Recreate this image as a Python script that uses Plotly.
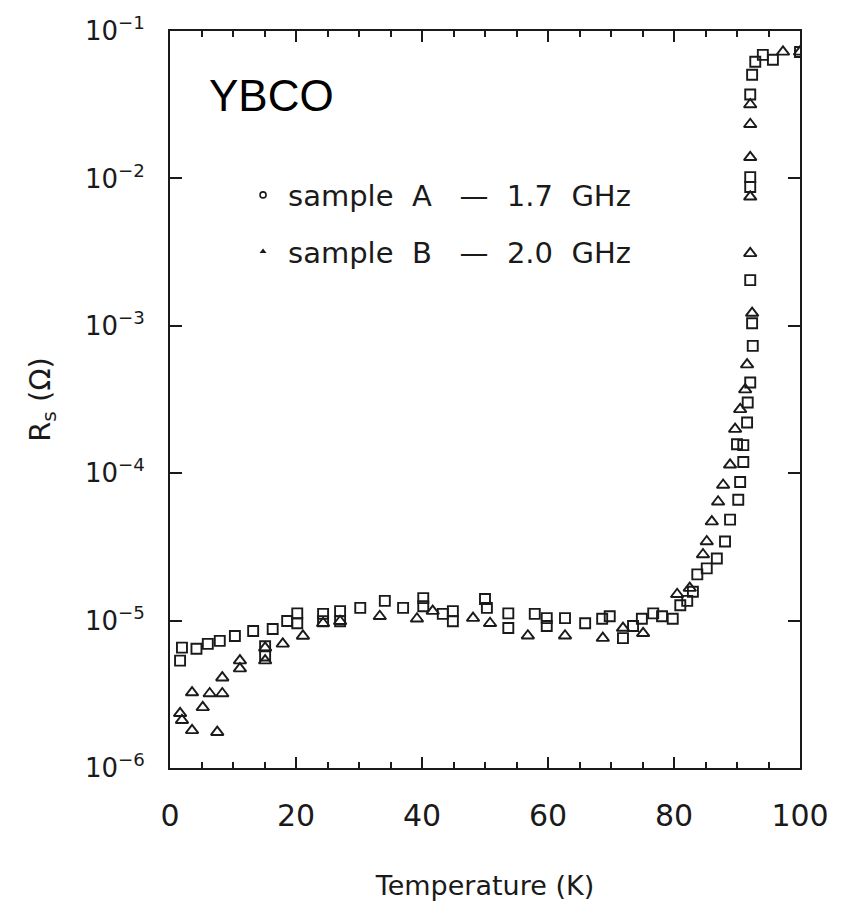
import plotly.graph_objects as go

# Sample A (1.7 GHz): temperature (K), surface resistance (Ohm)
temp_a = [1.6, 1.9, 4.2, 6.0, 7.9, 10.3, 13.2, 15.1, 15.1, 16.3, 18.6, 20.2, 20.2,
          24.3, 24.3, 27.0, 27.0, 30.2, 34.1, 37.0, 40.2, 40.2, 43.3, 44.9, 44.9,
          50.0, 50.3, 53.7, 53.7, 57.9, 59.8, 59.8, 62.7, 65.9, 68.6, 69.8, 71.9,
          73.5, 74.9, 76.7, 78.1, 79.8, 81.0, 82.1, 83.0, 83.7, 85.2, 86.8, 88.1,
          88.9, 90.2, 90.5, 91.0, 90.0, 91.0, 91.6, 91.7, 92.1, 92.5, 92.4, 92.1,
          92.1, 92.1, 92.1, 92.4, 92.9, 94.1, 95.7, 100.0]
rs_a = [5.35e-6, 6.56e-6, 6.44e-6, 6.95e-6, 7.29e-6, 7.87e-6, 8.51e-6, 6.7e-6, 5.8e-6,
        8.77e-6, 9.93e-6, 1.12e-5, 9.6e-6, 1.11e-5, 9.9e-6, 1.16e-5, 9.9e-6, 1.22e-5,
        1.36e-5, 1.22e-5, 1.42e-5, 1.25e-5, 1.11e-5, 1.16e-5, 9.9e-6, 1.40e-5, 1.22e-5,
        1.12e-5, 8.9e-6, 1.11e-5, 1.04e-5, 9.2e-6, 1.04e-5, 9.6e-6, 1.03e-5, 1.07e-5,
        7.6e-6, 9.2e-6, 1.03e-5, 1.12e-5, 1.07e-5, 1.03e-5, 1.27e-5, 1.36e-5, 1.57e-5,
        2.06e-5, 2.26e-5, 2.64e-5, 3.44e-5, 4.84e-5, 6.60e-5, 8.72e-5, 1.19e-4, 1.57e-4,
        1.55e-4, 2.21e-4, 3.02e-4, 4.12e-4, 7.31e-4, 1.04e-3, 2.04e-3, 8.75e-3, 1.02e-2,
        3.71e-2, 5.05e-2, 6.18e-2, 6.89e-2, 6.38e-2, 7.2e-2]

# Sample B (2.0 GHz)
temp_b = [1.6, 1.9, 3.5, 7.5, 3.5, 5.2, 6.3, 8.3, 8.3, 11.1, 11.1, 15.1, 15.1, 17.9,
          21.1, 24.3, 27.0, 33.3, 39.2, 41.7, 48.1, 50.8, 56.8, 62.7, 68.7, 71.9, 75.1,
          80.5, 82.5, 84.6, 85.2, 86.0, 87.0, 87.8, 88.9, 89.7, 90.5, 91.3, 91.6, 92.4,
          92.1, 92.1, 92.1, 92.1, 92.1, 97.3, 100.0]
rs_b = [2.35e-6, 2.11e-6, 1.80e-6, 1.75e-6, 3.25e-6, 2.58e-6, 3.20e-6, 3.20e-6, 4.10e-6,
        5.35e-6, 4.72e-6, 5.35e-6, 6.53e-6, 6.95e-6, 7.87e-6, 9.6e-6, 9.9e-6, 1.07e-5,
        1.03e-5, 1.16e-5, 1.04e-5, 9.6e-6, 7.9e-6, 7.9e-6, 7.6e-6, 8.9e-6, 8.2e-6,
        1.51e-5, 1.66e-5, 2.81e-5, 3.44e-5, 4.69e-5, 6.40e-5, 8.32e-5, 1.14e-4, 1.99e-4,
        2.71e-4, 3.69e-4, 5.45e-4, 1.22e-3, 3.10e-3, 7.50e-3, 1.39e-2, 2.33e-2, 3.17e-2,
        7.22e-2, 7.22e-2]

y_tickvals = [1e-6, 1e-5, 1e-4, 1e-3, 1e-2, 1e-1]
y_ticktext = ["10<sup>−6</sup>", "10<sup>−5</sup>", "10<sup>−4</sup>",
              "10<sup>−3</sup>", "10<sup>−2</sup>", "10<sup>−1</sup>"]
x_tickvals = [0, 20, 40, 60, 80, 100]

FONT = "DejaVu Sans"
INK = "#1a1a1a"

fig = go.Figure()
fig.add_trace(go.Scatter(
    x=temp_a, y=rs_a, mode="markers", showlegend=False,
    marker=dict(symbol="square-open", size=10, color=INK, line=dict(width=1.9, color=INK)),
))
fig.add_trace(go.Scatter(
    x=temp_b, y=rs_b, mode="markers", showlegend=False,
    marker=dict(symbol="triangle-up-open", size=11, color=INK, line=dict(width=1.9, color=INK)),
))
# legend entries
fig.add_trace(go.Scatter(
    x=[None], y=[None], mode="markers", name="sample  A   —  1.7  GHz", legendgroup="a",
    marker=dict(symbol="circle-open", size=6, color=INK, line=dict(width=1.6, color=INK)),
))
fig.add_trace(go.Scatter(
    x=[None], y=[None], mode="markers", name="sample  B   —  2.0  GHz", legendgroup="b",
    marker=dict(symbol="triangle-up", size=6, color=INK),
))

fig.add_annotation(
    text="YBCO", xref="paper", yref="paper", x=0.058, y=0.912,
    xanchor="left", yanchor="middle", showarrow=False,
    font=dict(family="Liberation Sans", size=44, color="#000"),
)

fig.update_xaxes(
    range=[0, 100], tickvals=x_tickvals, ticks="inside", ticklen=11, tickwidth=1.5,
    tickcolor=INK, showline=True, linecolor=INK, linewidth=2, mirror="allticks",
    showgrid=False, zeroline=False, ticklabelstandoff=20, automargin=False,
    minor=dict(dtick=5, ticks="inside", ticklen=6, tickwidth=1.5, tickcolor=INK, showgrid=False),
    tickfont=dict(family=FONT, size=30, color=INK),
    title=dict(text="Temperature (K)", font=dict(family=FONT, size=27, color=INK), standoff=44),
)
fig.update_yaxes(
    type="log", range=[-6, -1], tickvals=y_tickvals, ticktext=y_ticktext,
    ticks="inside", ticklen=12, tickwidth=1.5, tickcolor=INK,
    showline=True, linecolor=INK, linewidth=2, mirror="allticks",
    showgrid=False, zeroline=False, ticklabelstandoff=18, ticklabeloverflow="allow",
    automargin=False,
    tickfont=dict(family=FONT, size=26, color=INK),
    title=dict(text="R<sub>s</sub> (Ω)", font=dict(family=FONT, size=29, color=INK), standoff=26),
)

fig.update_layout(
    width=844, height=915,
    margin=dict(l=162, r=52, t=23, b=155, autoexpand=False),
    paper_bgcolor="white", plot_bgcolor="white",
    font=dict(family=FONT, color=INK),
    legend=dict(
        x=0.108, y=0.812, xanchor="left", yanchor="top",
        font=dict(family=FONT, size=29, color=INK),
        bgcolor="rgba(0,0,0,0)", tracegroupgap=16, itemwidth=40,
    ),
)

fig.write_html("out.html")
